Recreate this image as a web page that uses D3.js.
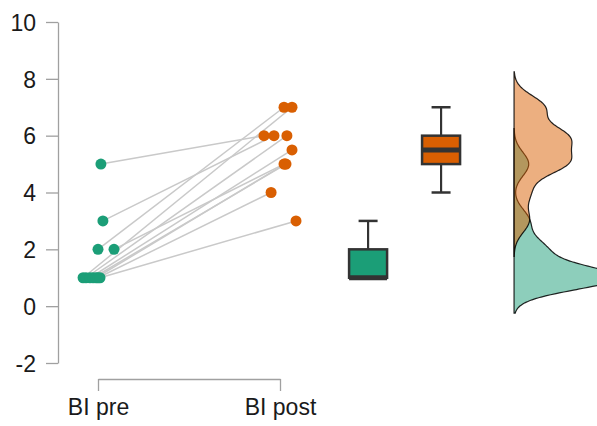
<!DOCTYPE html>
<html>
<head>
<meta charset="utf-8">
<script src="https://cdn.jsdelivr.net/npm/d3@7"></script>
<style>
  body { margin: 0; background: #fff; }
  text { font-family: "Liberation Sans", Arial, sans-serif; }
</style>
</head>
<body>
<svg id="chart" width="597" height="426"></svg>
<script>
// conditions and paired scores
const conditions = ["BI pre", "BI post"];
const preScores = [5, 3, 2, 2, 1, 1, 1, 1, 1, 1, 1];
const postScores = [6, 6, 7, 5, 7, 6, 5.5, 5, 5, 4, 3];
// horizontal jitter of each point (share of the gap between conditions)
const preJitter = [0.016, 0.027, 0, 0.088, -0.082, -0.066, -0.044, -0.027, -0.011, 0, 0.011];
const postJitter = [-0.088, -0.033, 0.022, 0.022, 0.066, 0.038, 0.066, 0.033, 0.027, -0.049, 0.088];
const yTicks = [-2, 0, 2, 4, 6, 8, 10];

const GREEN = "#1b9e77";
const ORANGE = "#d95f02";

const svg = d3.select("#chart");

const y = d3.scaleLinear().domain([-2, 10]).range([363, 22]);
const x = d3.scaleLinear().domain([0, 1]).range([98, 280]);

// y axis
const yAxis = svg.append("g")
  .attr("transform", "translate(58,0)")
  .call(d3.axisLeft(y).tickValues(yTicks).tickFormat(d => String(d))
    .tickSize(12).tickPadding(10).tickSizeOuter(0));
yAxis.select(".domain").attr("stroke", "#a0a0a0").attr("stroke-width", 1.3);
yAxis.selectAll(".tick line").attr("stroke", "#a0a0a0").attr("stroke-width", 1.3);
yAxis.selectAll(".tick text").style("font-size", "23px").attr("fill", "#1a1a1a").attr("dy", "0.36em");

// x axis
const xAxis = svg.append("g")
  .attr("transform", "translate(0,379)")
  .call(d3.axisBottom(x).tickValues([0, 1]).tickFormat(i => conditions[i])
    .tickSize(12).tickPadding(8).tickSizeOuter(0));
xAxis.select(".domain").attr("stroke", "#a0a0a0").attr("stroke-width", 1.3);
xAxis.selectAll(".tick line").attr("stroke", "#a0a0a0").attr("stroke-width", 1.3);
xAxis.selectAll(".tick text").style("font-size", "23px").attr("fill", "#1a1a1a");

// paired lines
const pairs = preScores.map((v, i) => ({
  pre: v, post: postScores[i], jp: preJitter[i], jq: postJitter[i]
}));

svg.append("g").selectAll("line")
  .data(pairs)
  .enter()
  .append("line")
  .attr("x1", d => x(0 + d.jp))
  .attr("y1", d => y(d.pre))
  .attr("x2", d => x(1 + d.jq))
  .attr("y2", d => y(d.post))
  .attr("stroke", "#c9c9c9")
  .attr("stroke-width", 1.5);

svg.append("g").selectAll("circle")
  .data(pairs)
  .enter()
  .append("circle")
  .attr("cx", d => x(0 + d.jp))
  .attr("cy", d => y(d.pre))
  .attr("r", 5.5)
  .style("fill", GREEN);

svg.append("g").selectAll("circle")
  .data(pairs)
  .enter()
  .append("circle")
  .attr("cx", d => x(1 + d.jq))
  .attr("cy", d => y(d.post))
  .attr("r", 5.5)
  .style("fill", ORANGE);

// box plots
function boxStats(values) {
  const s = values.slice().sort(d3.ascending);
  const q1 = d3.quantileSorted(s, 0.25);
  const med = d3.quantileSorted(s, 0.5);
  const q3 = d3.quantileSorted(s, 0.75);
  const iqr = q3 - q1;
  const lo = d3.min(s.filter(v => v >= q1 - 1.5 * iqr));
  const hi = d3.max(s.filter(v => v <= q3 + 1.5 * iqr));
  return { q1, med, q3, lo, hi };
}

const boxes = [
  { stats: boxStats(preScores), pos: 1.484, color: GREEN },
  { stats: boxStats(postScores), pos: 1.885, color: ORANGE }
];
const boxW = 38, capW = 19;

const bg = svg.append("g").selectAll("g")
  .data(boxes)
  .enter()
  .append("g");

bg.append("line")
  .attr("x1", d => x(d.pos)).attr("x2", d => x(d.pos))
  .attr("y1", d => y(d.stats.hi)).attr("y2", d => y(d.stats.lo))
  .attr("stroke", "#333").attr("stroke-width", 2.2);
bg.append("line")
  .attr("x1", d => x(d.pos) - capW / 2).attr("x2", d => x(d.pos) + capW / 2)
  .attr("y1", d => y(d.stats.hi)).attr("y2", d => y(d.stats.hi))
  .attr("stroke", "#333").attr("stroke-width", 2.5);
bg.append("line")
  .attr("x1", d => x(d.pos) - capW / 2).attr("x2", d => x(d.pos) + capW / 2)
  .attr("y1", d => y(d.stats.lo)).attr("y2", d => y(d.stats.lo))
  .attr("stroke", "#333").attr("stroke-width", 2.5);
bg.append("rect")
  .attr("x", d => x(d.pos) - boxW / 2)
  .attr("width", boxW)
  .attr("y", d => y(d.stats.q3))
  .attr("height", d => y(d.stats.q1) - y(d.stats.q3))
  .attr("fill", d => d.color)
  .attr("stroke", "#333")
  .attr("stroke-width", 2.5);
bg.append("line")
  .attr("x1", d => x(d.pos) - boxW / 2).attr("x2", d => x(d.pos) + boxW / 2)
  .attr("y1", d => y(d.stats.med)).attr("y2", d => y(d.stats.med))
  .attr("stroke", "#333").attr("stroke-width", 5);

// half violins (gaussian kde, bw.nrd0, cut = 3)
function bwNrd0(values) {
  const s = values.slice().sort(d3.ascending);
  const sd = d3.deviation(s);
  const iqr = d3.quantileSorted(s, 0.75) - d3.quantileSorted(s, 0.25);
  return 0.9 * Math.min(sd, iqr / 1.34) * Math.pow(s.length, -0.2);
}
function kde(values) {
  const bw = bwNrd0(values);
  const lo = d3.min(values) - 3 * bw, hi = d3.max(values) + 3 * bw;
  const n = 200;
  return d3.range(n + 1).map(i => {
    const v = lo + (hi - lo) * i / n;
    const d = d3.mean(values, xi => Math.exp(-0.5 * ((v - xi) / bw) ** 2)) / (bw * Math.sqrt(2 * Math.PI));
    return { v, d };
  });
}

const baseX = x(2.286);
const w = d3.scaleLinear().domain([0, 0.345]).range([0, 58]);
const area = d3.area()
  .curve(d3.curveBasis)
  .y(d => y(d.v))
  .x0(baseX)
  .x1(d => baseX + w(d.d));

const dens = [
  { values: preScores, color: GREEN },
  { values: postScores, color: ORANGE }
];

svg.append("g").selectAll("path")
  .data(dens)
  .enter()
  .append("path")
  .attr("d", d => area(kde(d.values)) + "Z")
  .attr("fill", d => d.color)
  .attr("fill-opacity", 0.5)
  .attr("stroke", "#000")
  .attr("stroke-width", 1.2)
  .attr("stroke-opacity", 0.85);
</script>
</body>
</html>
